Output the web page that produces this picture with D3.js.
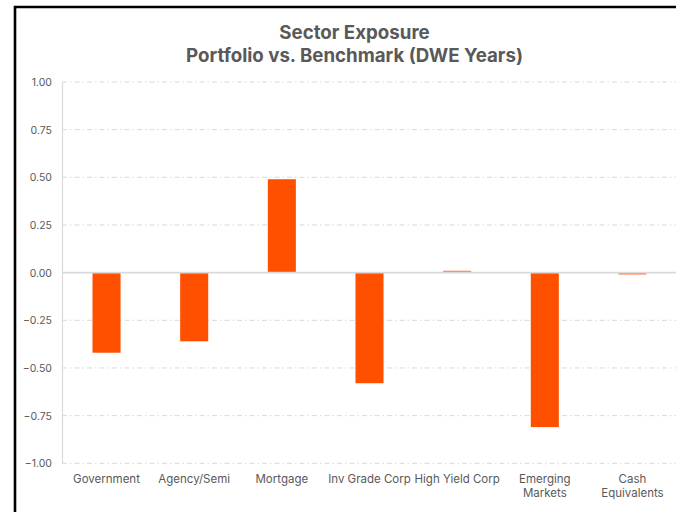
<!DOCTYPE html>
<html><head><meta charset="utf-8">
<script src="https://cdn.jsdelivr.net/npm/d3@7"></script>
<style>
html,body{margin:0;padding:0;background:#fff;}
svg{display:block;}
</style></head>
<body>
<script>
const categories = ["Government","Agency/Semi","Mortgage","Inv Grade Corp","High Yield Corp","Emerging Markets","Cash Equivalents"];
const categoryLines = [["Government"],["Agency/Semi"],["Mortgage"],["Inv Grade Corp"],["High Yield Corp"],["Emerging","Markets"],["Cash","Equivalents"]];
const values = [-0.42,-0.36,0.49,-0.58,0.01,-0.81,-0.01];
const yTicks = [1.00,0.75,0.50,0.25,0.00,-0.25,-0.50,-0.75,-1.00];
const titleLines = ["Sector Exposure","Portfolio vs. Benchmark (DWE Years)"];

const W = 676, H = 512;
const svg = d3.select("body").append("svg").attr("width",W).attr("height",H);
const font = "Inter, 'Libre Franklin', sans-serif";
const gray = "#595959";

// frame border
svg.append("path").attr("d","M15,520 L15,7 L690,7").attr("fill","none").attr("stroke","#000").attr("stroke-width",2.6);

const y = d3.scaleLinear().domain([-1,1]).range([463.3,82]);
const x = d3.scaleBand().domain(categories).range([62.7,676.3]).padding(0);
const barW = x.bandwidth()*0.32;

// gridlines
const grid = svg.append("g");
grid.selectAll("line").data(yTicks.filter(d=>d!==0)).join("line")
  .attr("x1",62).attr("x2",W).attr("y1",d=>y(d)).attr("y2",d=>y(d))
  .attr("stroke","#d9d9d9").attr("stroke-width",1).attr("stroke-dasharray","5,3,1.5,3");

// y axis via d3
const yAxis = d3.axisLeft(y).tickValues(yTicks).tickFormat(d3.format(".2f")).tickSize(0).tickPadding(10);
const ya = svg.append("g").attr("transform","translate(62,0)").call(yAxis);
ya.select(".domain").attr("stroke","#d9d9d9").attr("stroke-width",1.2);
ya.selectAll("text").attr("font-family",font).attr("font-size",10.5).attr("fill",gray);

// bars
svg.append("g").selectAll("rect").data(values).join("rect")
  .attr("x",(d,i)=>x(categories[i])+x.bandwidth()/2-barW/2)
  .attr("width",barW)
  .attr("y",d=>Math.min(y(d),y(0)))
  .attr("height",d=>Math.max(1.2,Math.abs(y(d)-y(0))))
  .attr("fill",(d,i)=>Math.abs(d)<0.02?"#ff7a45":"#ff5000");

// zero line
svg.append("line").attr("x1",62).attr("x2",W).attr("y1",y(0)).attr("y2",y(0))
  .attr("stroke","#d9d9d9").attr("stroke-width",1.6);

// x axis labels
const xa = svg.append("g").attr("font-family",font).attr("font-size",11.5).attr("fill",gray).attr("text-anchor","middle");
categories.forEach((c,i)=>{
  const t = xa.append("text").attr("x",x(c)+x.bandwidth()/2).attr("y",482.5);
  categoryLines[i].forEach((ln,j)=>{
    t.append("tspan").attr("x",x(c)+x.bandwidth()/2).attr("dy",j===0?0:14).text(ln);
  });
});

// title
svg.append("g").attr("font-family",font).attr("font-weight","bold").attr("font-size",18.7).attr("fill",gray).attr("text-anchor","middle")
  .selectAll("text").data(titleLines).join("text")
  .attr("x",354.5).attr("y",(d,i)=>38.5+i*23).text(d=>d);
</script>
</body></html>
